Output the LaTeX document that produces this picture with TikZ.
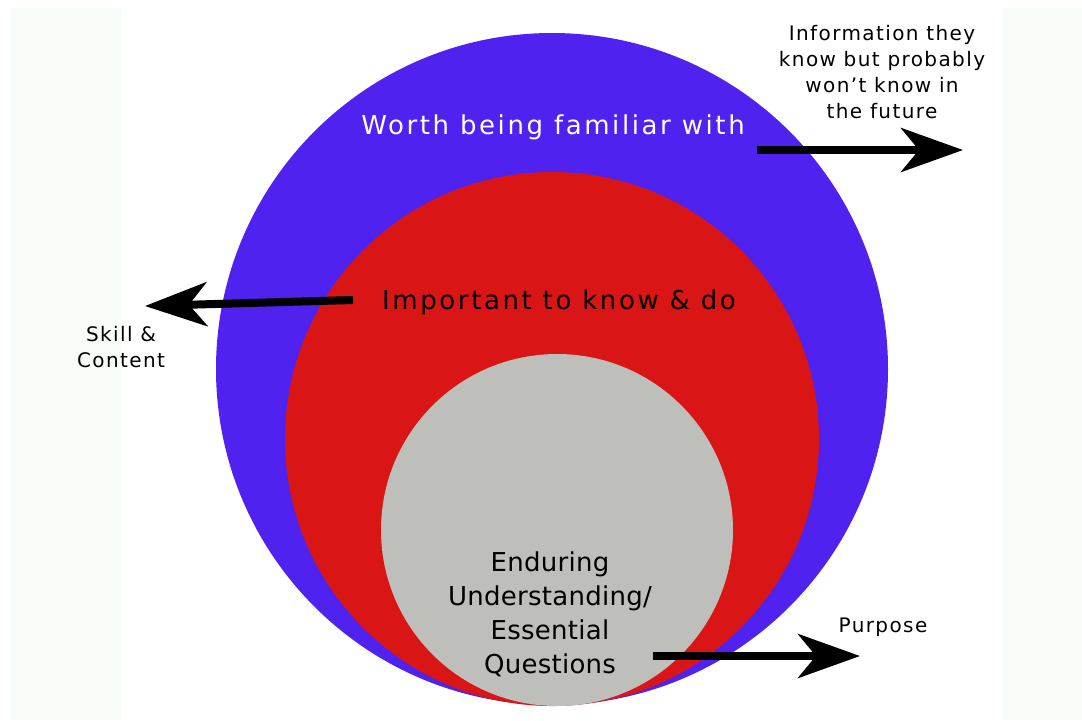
\documentclass[tikz,border=0pt]{standalone}
\usepackage{fontspec}
\setmainfont{DejaVu Sans}
\usetikzlibrary{arrows.meta, positioning}
\definecolor{worthblue}{HTML}{4F22F0}
\definecolor{knowred}{HTML}{DA1515}
\definecolor{coregrey}{HTML}{BEBEBA}
\definecolor{panel}{HTML}{F8FDF9}

\begin{document}
\begin{tikzpicture}[
						x=0.5pt, y=-0.5pt,
						ball/.style = {circle, inner sep=0pt},
						big/.style = {font=\fontsize{13}{17}\selectfont\addfontfeature{LetterSpace=10}, align=center},
						mid/.style = {font=\fontsize{13}{17}\selectfont\addfontfeature{LetterSpace=1}, align=center},
						side/.style = {font=\fontsize{10}{13}\selectfont\addfontfeature{LetterSpace=7}, align=center},
						fat/.style = {line width=4pt, -{Stealth[length=31pt, width=22pt, inset=9pt]}}
					]
\useasboundingbox (0,0) rectangle (1082,720);
\fill[panel] (11,8) rectangle (122,720);
\fill[panel] (1003,8) rectangle (1082,720);

\node[ball, fill=worthblue, minimum size=336pt] (worth) at (552,369) {};
\node[ball, fill=knowred, minimum size=267pt] (know) at (552,439) {};
\node[ball, fill=coregrey, minimum size=176pt] (core) at (557,530) {};

\node[big, text=white] (worthtxt) at (553,127) {Worth being familiar with};
\node[big] (knowtxt) at (559,302) {Important to know \& do};
\node[mid] (coretxt) at (550,614) {Enduring\\Understanding/\\Essential\\Questions};

\node[side] (info) at (882,72) {Information they\\know but probably\\won't know in\\the future};
\node[side] (skill) at (121,347) {Skill \&\\Content};
\node[side] (purpose) at (883,627) {Purpose};

\coordinate (wtail) at (757,150);
\coordinate (wtip) at (963,150);
\coordinate (ktail) at (353,300);
\coordinate (ktip) at (145,306);
\coordinate (ctail) at (653,656);
\coordinate (ctip) at (860,656);

\draw[fat] (wtail) -- (wtip);
\draw[fat] (ktail) -- (ktip);
\draw[fat] (ctail) -- (ctip);
\end{tikzpicture}
\end{document}
